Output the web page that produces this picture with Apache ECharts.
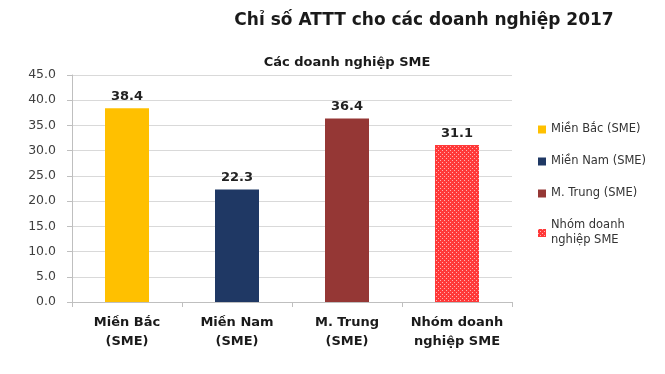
<!DOCTYPE html>
<html><head><meta charset="utf-8">
<script src="https://cdn.jsdelivr.net/npm/echarts@6/dist/echarts.min.js"></script>
<style>html,body{margin:0;padding:0;background:#fff}#c{width:665px;height:374px}</style>
</head><body><div id="c"></div>
<script>
const categories = ['Miền Bắc\n(SME)', 'Miền Nam\n(SME)', 'M. Trung\n(SME)', 'Nhóm doanh\nnghiệp SME'];
const legendNames = ['Miền Bắc (SME)', 'Miền Nam (SME)', 'M. Trung (SME)', 'Nhóm doanh\nnghiệp SME'];
const values = [38.4, 22.3, 36.4, 31.1];
const yTicks = {min: 0, max: 45, interval: 5};

function makePattern() {
  const c = document.createElement('canvas');
  c.width = 4; c.height = 4;
  const ctx = c.getContext('2d');
  ctx.fillStyle = '#ff3838';
  ctx.fillRect(0, 0, 4, 4);
  ctx.fillStyle = '#ffb0b0';
  ctx.fillRect(0, 0, 1, 1);
  ctx.fillRect(2, 2, 1, 1);
  return c;
}
const pat = {image: makePattern(), repeat: 'repeat'};
const colors = ['#FFC000', '#1F3864', '#953735', pat];
const font = '"DejaVu Sans", sans-serif';

const series = legendNames.map((n, i) => ({
  name: n, type: 'bar', stack: 'a', barWidth: 44,
  data: values.map((v, j) => j === i ? v : '-'),
  itemStyle: {color: colors[i]},
  label: {show: true, position: 'top', formatter: p => p.value.toFixed(1),
    fontFamily: font, fontWeight: 'bold', fontSize: 13, color: '#222', distance: 5}
}));

const chart = echarts.init(document.getElementById('c'));
chart.setOption({
  animation: false,
  title: [
    {text: 'Chỉ số ATTT cho các doanh nghiệp 2017', left: 419, textAlign: 'center', top: 7,
      textStyle: {fontFamily: font, fontWeight: 'bold', fontSize: 17, color: '#1a1a1a'}},
    {text: 'Các doanh nghiệp SME', left: 342, textAlign: 'center', top: 51,
      textStyle: {fontFamily: font, fontWeight: 'bold', fontSize: 13, color: '#1a1a1a'}}
  ],
  legend: {
    orient: 'vertical', left: 533, top: 117, itemWidth: 8, itemHeight: 8, itemGap: 17,
    icon: 'rect',
    textStyle: {fontFamily: font, fontSize: 11.5, color: '#333', lineHeight: 15},
    data: legendNames
  },
  grid: {left: 72, right: 153, top: 75, bottom: 72},
  xAxis: {
    type: 'category', data: categories,
    axisLine: {lineStyle: {color: '#bfbfbf'}},
    axisTick: {show: true, length: 5, lineStyle: {color: '#bfbfbf'}},
    axisLabel: {interval: 0, fontFamily: font, fontWeight: 'bold', fontSize: 13, color: '#1a1a1a', margin: 11, lineHeight: 19}
  },
  yAxis: {
    type: 'value', min: yTicks.min, max: yTicks.max, interval: yTicks.interval,
    axisLine: {show: true, lineStyle: {color: '#bfbfbf'}},
    axisTick: {show: true, length: 5, lineStyle: {color: '#bfbfbf'}},
    splitLine: {lineStyle: {color: '#d9d9d9'}},
    axisLabel: {fontFamily: font, fontSize: 12.5, color: '#404040', formatter: v => v.toFixed(1), margin: 16}
  },
  series: series
});
</script></body></html>
